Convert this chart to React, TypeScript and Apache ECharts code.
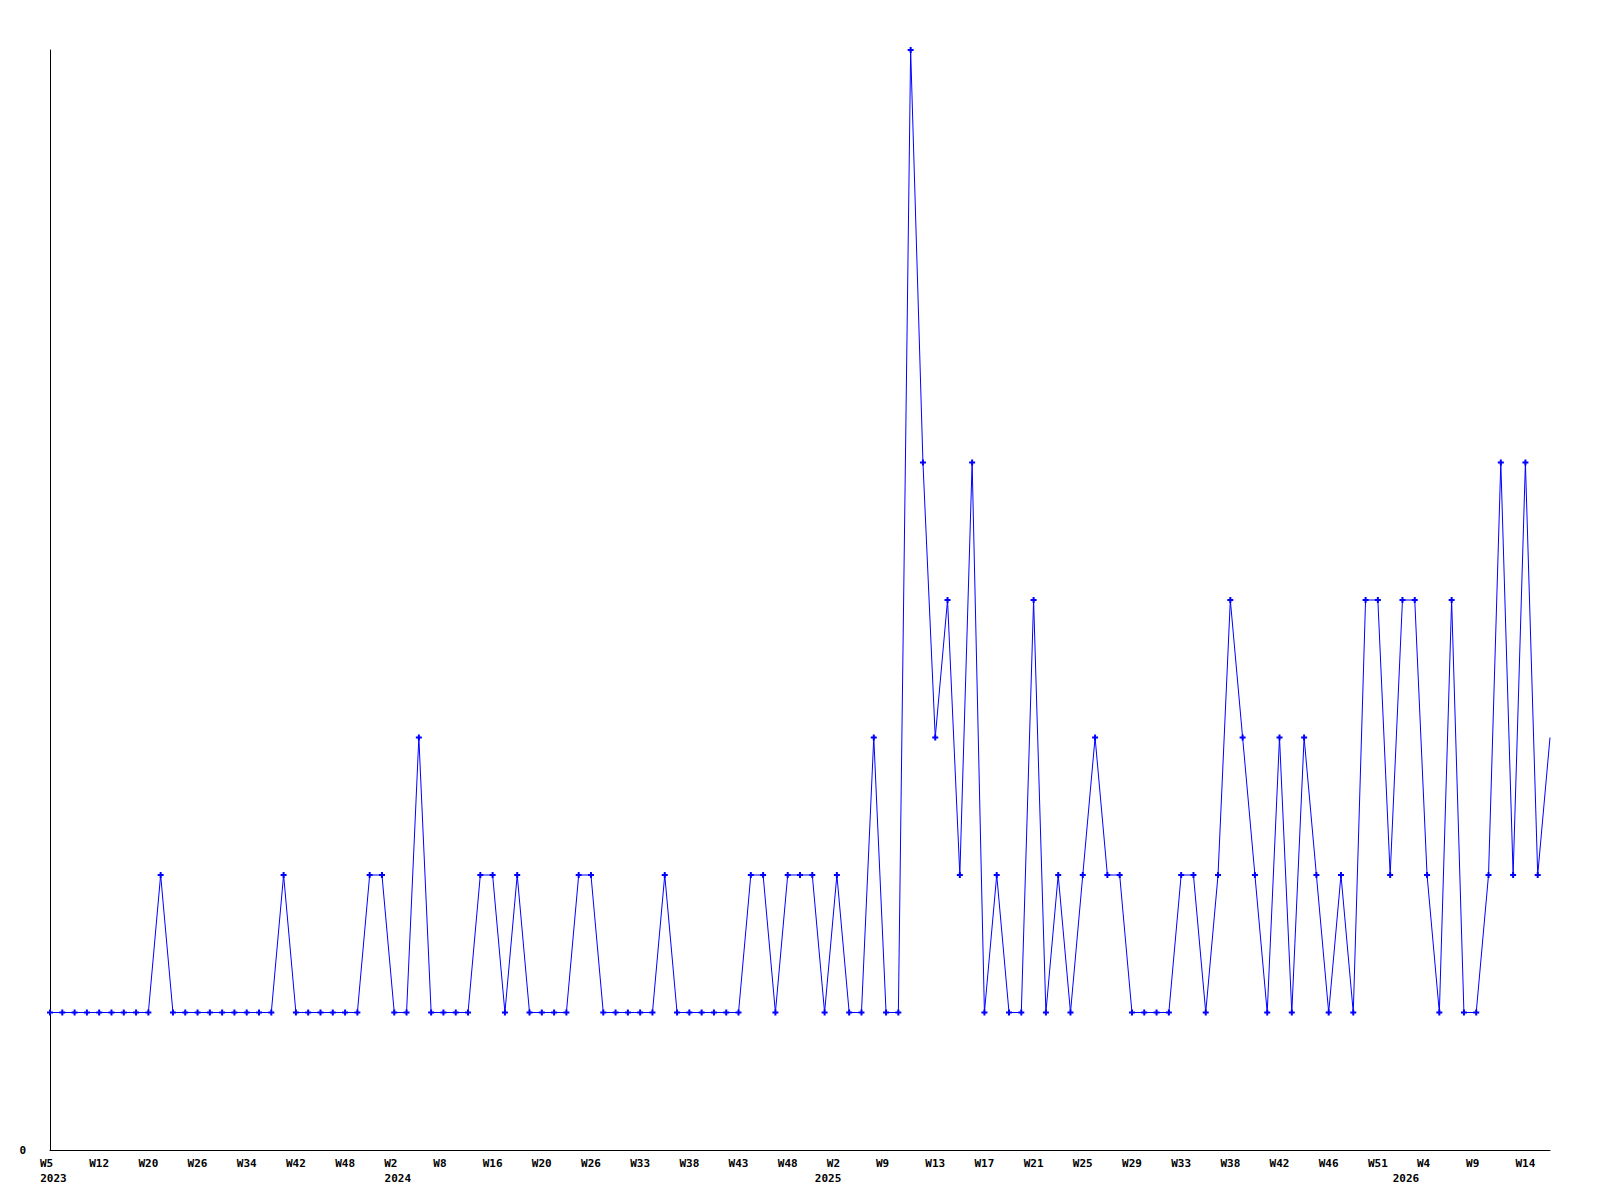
import React, { useEffect, useRef } from "react";
import * as echarts from "echarts";

// one value per sample (123 samples)
const values: number[] = [
  1, 1, 1, 1, 1, 1, 1, 1, 1, 2,
  1, 1, 1, 1, 1, 1, 1, 1, 1, 2,
  1, 1, 1, 1, 1, 1, 2, 2, 1, 1,
  3, 1, 1, 1, 1, 2, 2, 1, 2, 1,
  1, 1, 1, 2, 2, 1, 1, 1, 1, 1,
  2, 1, 1, 1, 1, 1, 1, 2, 2, 1,
  2, 2, 2, 1, 2, 1, 1, 3, 1, 1,
  8, 5, 3, 4, 2, 5, 1, 2, 1, 1,
  4, 1, 2, 1, 2, 3, 2, 2, 1, 1,
  1, 1, 2, 2, 1, 2, 4, 3, 2, 1,
  3, 1, 3, 2, 1, 2, 1, 4, 4, 2,
  4, 4, 2, 1, 4, 1, 1, 2, 5, 2,
  5, 2, 3,
];

// week tick labels, shown on every 4th sample
const weekLabels: string[] = [
  "W5", "W12", "W20", "W26", "W34", "W42", "W48",
  "W2", "W8", "W16", "W20", "W26", "W33", "W38", "W43", "W48",
  "W2", "W9", "W13", "W17", "W21", "W25", "W29", "W33", "W38", "W42", "W46", "W51",
  "W4", "W9", "W14",
];
const labelStep = 4;

// year labels and the sample index they sit under
const years: string[] = ["2023", "2024", "2025", "2026"];
const yearIndex: number[] = [0, 28, 63, 110];

const yTickLabels: string[] = ["0"];

const categories = values.map((_, i) => String(i));

const FONT = "'DejaVu Sans Mono', 'Liberation Mono', monospace";

export default function App() {
  const ref = useRef<HTMLDivElement>(null);
  useEffect(() => {
    if (!ref.current) return;
    const chart = echarts.init(ref.current, undefined, { renderer: "svg" });
    const last = values.length - 1;
    chart.setOption({
      animation: false,
      backgroundColor: "#ffffff",
      grid: { left: 50, right: 50, top: 50, bottom: 50, containLabel: false },
      xAxis: [
        {
          type: "category",
          data: categories,
          boundaryGap: false,
          axisLine: { show: true, lineStyle: { color: "#000000", width: 1 } },
          axisTick: { show: false },
          splitLine: { show: false },
          axisLabel: {
            interval: labelStep - 1,
            margin: 8,
            color: "#000000",
            fontFamily: FONT,
            fontWeight: "bold",
            fontSize: 11,
            formatter: (_v: string, idx: number) => {
              const t = weekLabels[Math.round(idx / labelStep)] ?? "";
              return t.length === 2 ? "{s|" + t + "}" : "{n|" + t + "}";
            },
            rich: {
              s: { fontFamily: FONT, fontWeight: "bold", fontSize: 11, color: "#000", padding: [0, 7, 0, 0] },
              n: { fontFamily: FONT, fontWeight: "bold", fontSize: 11, color: "#000" },
            },
          },
        },
        {
          type: "category",
          data: categories,
          boundaryGap: false,
          position: "bottom",
          offset: 15,
          axisLine: { show: false },
          axisTick: { show: false },
          splitLine: { show: false },
          axisLabel: {
            interval: (idx: number) => yearIndex.indexOf(idx) >= 0,
            margin: 8,
            color: "#000000",
            fontFamily: FONT,
            fontWeight: "bold",
            fontSize: 11,
            formatter: (_v: string, idx: number) => {
              const k = yearIndex.indexOf(idx);
              return k >= 0 ? "{y|" + years[k] + "}" : "";
            },
            rich: {
              y: { fontFamily: FONT, fontWeight: "bold", fontSize: 11, color: "#000", padding: [0, 0, 0, 7] },
            },
          },
        },
      ],
      yAxis: {
        type: "value",
        min: 0,
        max: 8,
        interval: 8,
        axisLine: { show: true, lineStyle: { color: "#000000", width: 1 } },
        axisTick: { show: false },
        splitLine: { show: false },
        axisLabel: {
          margin: 24,
          color: "#000000",
          fontFamily: FONT,
          fontWeight: "bold",
          fontSize: 11,
          formatter: (v: number) => (v === 0 ? yTickLabels[0] : ""),
        },
      },
      series: [
        {
          type: "line",
          xAxisIndex: 0,
          data: values.map((v, i) => (i === last ? { value: v, symbol: "none" } : v)),
          symbol: "path://M2,0H4V2H6V4H4V6H2V4H0V2H2Z",
          symbolSize: 6,
          showAllSymbol: true,
          lineStyle: { color: "#0000ff", width: 1 },
          itemStyle: { color: "#0000ff" },
          emphasis: { disabled: true },
        },
      ],
    });
    return () => chart.dispose();
  }, []);
  return (
    <div
      ref={ref}
      style={{ position: "absolute", left: 0, top: 0, width: 1600, height: 1200 }}
    />
  );
}
